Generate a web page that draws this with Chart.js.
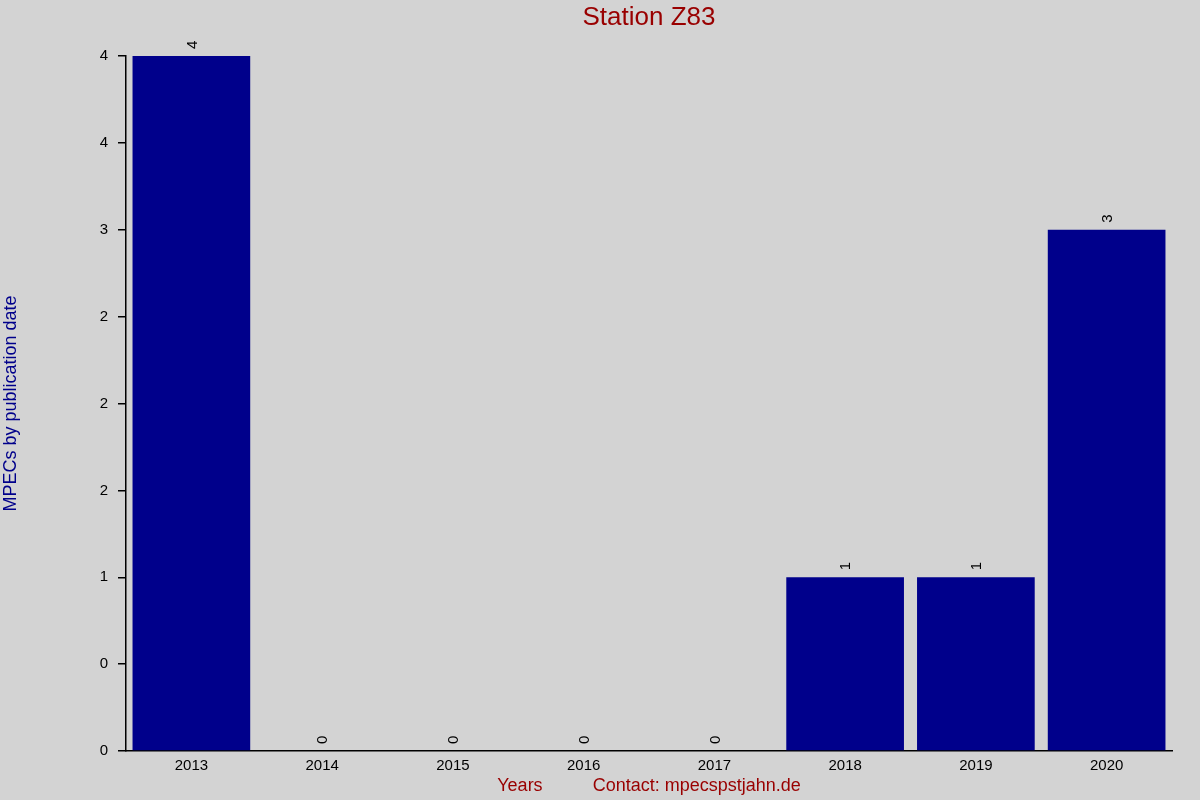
<!DOCTYPE html>
<html>
<head>
<meta charset="utf-8">
<script src="https://cdn.jsdelivr.net/npm/chart.js@4"></script>
<style>
  html, body { margin: 0; padding: 0; background: #d3d3d3; }
  #wrap { width: 1200px; height: 800px; }
</style>
</head>
<body>
<div id="wrap"><canvas id="c" width="1200" height="800"></canvas></div>
<script>
// values
const years = ['2013', '2014', '2015', '2016', '2017', '2018', '2019', '2020'];
const mpecCounts = [4, 0, 0, 0, 0, 1, 1, 3];
// the source rounds its half-step ticks, so labels repeat
const yTickLabels = ['0', '0', '1', '2', '2', '2', '3', '4', '4'];

const titleText = 'Station Z83';
const yTitleText = 'MPECs by publication date';
const xTitleText = 'Years          Contact: mpecspstjahn.de';

const FONT = '"Liberation Sans", Arial, sans-serif';

// draws the background, titles and rotated value labels
const extras = {
  id: 'extras',
  beforeDraw(chart) {
    const ctx = chart.ctx;
    ctx.save();
    ctx.fillStyle = '#d3d3d3';
    ctx.fillRect(0, 0, chart.width, chart.height);
    ctx.restore();
  },
  afterDraw(chart) {
    const ctx = chart.ctx;
    const area = chart.chartArea;
    const mid = (area.left + area.right) / 2;
    ctx.save();

    ctx.fillStyle = '#990000';
    ctx.font = '26px ' + FONT;
    ctx.textAlign = 'center';
    ctx.textBaseline = 'middle';
    ctx.fillText(titleText, mid, 18);

    ctx.font = '18px ' + FONT;
    ctx.fillText(xTitleText, mid, 786);

    ctx.save();
    ctx.fillStyle = '#00008b';
    ctx.translate(11, (area.top + area.bottom) / 2);
    ctx.rotate(-Math.PI / 2);
    ctx.fillText(yTitleText, 0, 0);
    ctx.restore();

    const meta = chart.getDatasetMeta(0);
    ctx.fillStyle = '#000';
    ctx.font = '15px ' + FONT;
    ctx.textAlign = 'left';
    ctx.textBaseline = 'middle';
    meta.data.forEach((bar, i) => {
      ctx.save();
      ctx.translate(bar.x, bar.y - 7);
      ctx.rotate(-Math.PI / 2);
      ctx.fillText(String(mpecCounts[i]), 0, 1);
      ctx.restore();
    });
    ctx.restore();
  }
};

new Chart(document.getElementById('c'), {
  type: 'bar',
  data: {
    labels: years,
    datasets: [{
      data: mpecCounts,
      backgroundColor: '#00008b',
      borderWidth: 0,
      categoryPercentage: 0.9,
      barPercentage: 1.0
    }]
  },
  options: {
    responsive: false,
    animation: false,
    devicePixelRatio: 1,
    layout: { padding: { top: 56, right: 28, left: 0, bottom: 0 } },
    plugins: {
      legend: { display: false },
      title: { display: false },
      tooltip: { enabled: false }
    },
    scales: {
      x: {
        afterFit(scale) { scale.height = 49; },
        grid: { display: false, drawTicks: false },
        border: { display: true, color: '#000', width: 1.5 },
        ticks: { color: '#000', font: { family: FONT, size: 15 }, padding: 6, maxRotation: 0 }
      },
      y: {
        min: 0,
        max: 4,
        afterFit(scale) { scale.width = 126; },
        grid: { drawOnChartArea: false, drawTicks: true, tickLength: 8, color: '#000', lineWidth: 1.5 },
        border: { display: true, color: '#000', width: 1.5 },
        ticks: {
          stepSize: 0.5,
          color: '#000',
          padding: 10,
          font: { family: FONT, size: 15 },
          callback: (v, i) => yTickLabels[i]
        }
      }
    }
  },
  plugins: [extras]
});
</script>
</body>
</html>
